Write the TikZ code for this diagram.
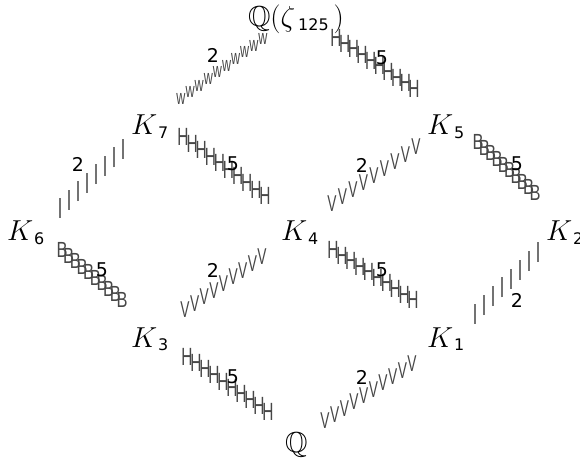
\RequirePackage{fix-cm}
\documentclass[tikz,border=0pt]{standalone}
\usepackage{fontspec}
\usepackage{amssymb}
\usetikzlibrary{calc}
\newfontfamily\dv{DejaVu Sans}
\newfontfamily\ls{Liberation Sans}
\newcommand\subf{\dv\fontsize{16}{16}\selectfont}
\newcommand\glyphrun[5]{% #1 start, #2 end, #3 last index, #4 style, #5 glyph
  \foreach \i in {0,...,#3} \node[#4] (#1-\i) at ($(#1)!\i/#3!(#2)$) {#5};}
\tikzset{
  every node/.style={inner sep=0pt, outer sep=0pt},
  obj/.style={anchor=base west, font=\fontsize{29}{30}\selectfont},
  lbl/.style={font=\dv\fontsize{19}{19}\selectfont},
  hglyph/.style={font=\ls\fontsize{25}{25}\selectfont, xscale=0.62, text=black!72},
  bglyph/.style={font=\ls\fontsize{22}{22}\selectfont, xscale=0.75, text=black!72},
  vglyph/.style={font=\ls\fontsize{23}{23}\selectfont, xscale=0.6, text=black!72},
  wglyph/.style={font=\ls\fontsize{21}{21}\selectfont, xscale=0.6, text=black!72},
  barglyph/.style={}
}
\newcommand\stickbar{\textcolor{black!55}{\rule{1.1pt}{20pt}}}
\begin{document}
\begin{tikzpicture}[x=1bp,y=-1bp]
\useasboundingbox (0,0) rectangle (580,464);
% objects
\node[obj] (T) at (248,27) {$\mathbb{Q}(\zeta$\kern3pt\raisebox{-4pt}{\subf 125}\kern5pt$)$};
\node[obj] (K7) at (131,135) {$K$\kern1pt\raisebox{-4pt}{\subf 7}};
\node[obj] (K5) at (427,135) {$K$\kern1pt\raisebox{-4pt}{\subf 5}};
\node[obj] (K6) at (7,241) {$K$\kern1pt\raisebox{-4pt}{\subf 6}};
\node[obj] (K4) at (281,241) {$K$\kern1pt\raisebox{-4pt}{\subf 4}};
\node[obj] (K2) at (546,241) {$K$\kern1pt\raisebox{-4pt}{\subf 2}};
\node[obj] (K3) at (131,347) {$K$\kern1pt\raisebox{-4pt}{\subf 3}};
\node[obj] (K1) at (427,347) {$K$\kern1pt\raisebox{-4pt}{\subf 1}};
\node[obj] (Q) at (285,452) {$\mathbb{Q}$};
% connector end points
\coordinate (T-K7) at (181,99);   \coordinate (T-K7 e) at (263,39);
\coordinate (T-K5) at (336,38);   \coordinate (T-K5 e) at (414,89);
\coordinate (K7-K6) at (123,149); \coordinate (K7-K6 e) at (60,208);
\coordinate (K7-K4) at (183,137); \coordinate (K7-K4 e) at (265,196);
\coordinate (K5-K4) at (416,147); \coordinate (K5-K4 e) at (332,204);
\coordinate (K5-K2) at (478,142); \coordinate (K5-K2 e) at (535,193);
\coordinate (K6-K3) at (62,250);  \coordinate (K6-K3 e) at (122,300);
\coordinate (K4-K3) at (262,257); \coordinate (K4-K3 e) at (185,310);
\coordinate (K4-K1) at (333,250); \coordinate (K4-K1 e) at (413,300);
\coordinate (K2-K1) at (538,252); \coordinate (K2-K1 e) at (475,314);
\coordinate (K3-Q) at (187,357);  \coordinate (K3-Q e) at (268,412);
\coordinate (Q-K1) at (325,421);  \coordinate (Q-K1 e) at (412,364);
% connectors drawn as glyph runs
\glyphrun{T-K7}{T-K7 e}{9}{wglyph}{w}
\glyphrun{T-K5}{T-K5 e}{9}{hglyph}{H}
\glyphrun{K7-K6}{K7-K6 e}{7}{barglyph}{\stickbar}
\glyphrun{K7-K4}{K7-K4 e}{9}{hglyph}{H}
\glyphrun{K5-K4}{K5-K4 e}{8}{vglyph}{V}
\glyphrun{K5-K2}{K5-K2 e}{9}{bglyph}{B}
\glyphrun{K6-K3}{K6-K3 e}{9}{bglyph}{B}
\glyphrun{K4-K3}{K4-K3 e}{8}{vglyph}{V}
\glyphrun{K4-K1}{K4-K1 e}{9}{hglyph}{H}
\glyphrun{K2-K1}{K2-K1 e}{7}{barglyph}{\stickbar}
\glyphrun{K3-Q}{K3-Q e}{9}{hglyph}{H}
\glyphrun{Q-K1}{Q-K1 e}{9}{vglyph}{V}
% labels
\node[lbl] (l1) at (213,55) {2};
\node[lbl] (l2) at (382,58) {5};
\node[lbl] (l3) at (78,164) {2};
\node[lbl] (l4) at (233,164) {5};
\node[lbl] (l5) at (362,165) {2};
\node[lbl] (l6) at (517,164) {5};
\node[lbl] (l7) at (102,270) {5};
\node[lbl] (l8) at (213,270) {2};
\node[lbl] (l9) at (382,270) {5};
\node[lbl] (l10) at (517,300) {2};
\node[lbl] (l11) at (233,377) {5};
\node[lbl] (l12) at (362,377) {2};
\end{tikzpicture}
\end{document}
